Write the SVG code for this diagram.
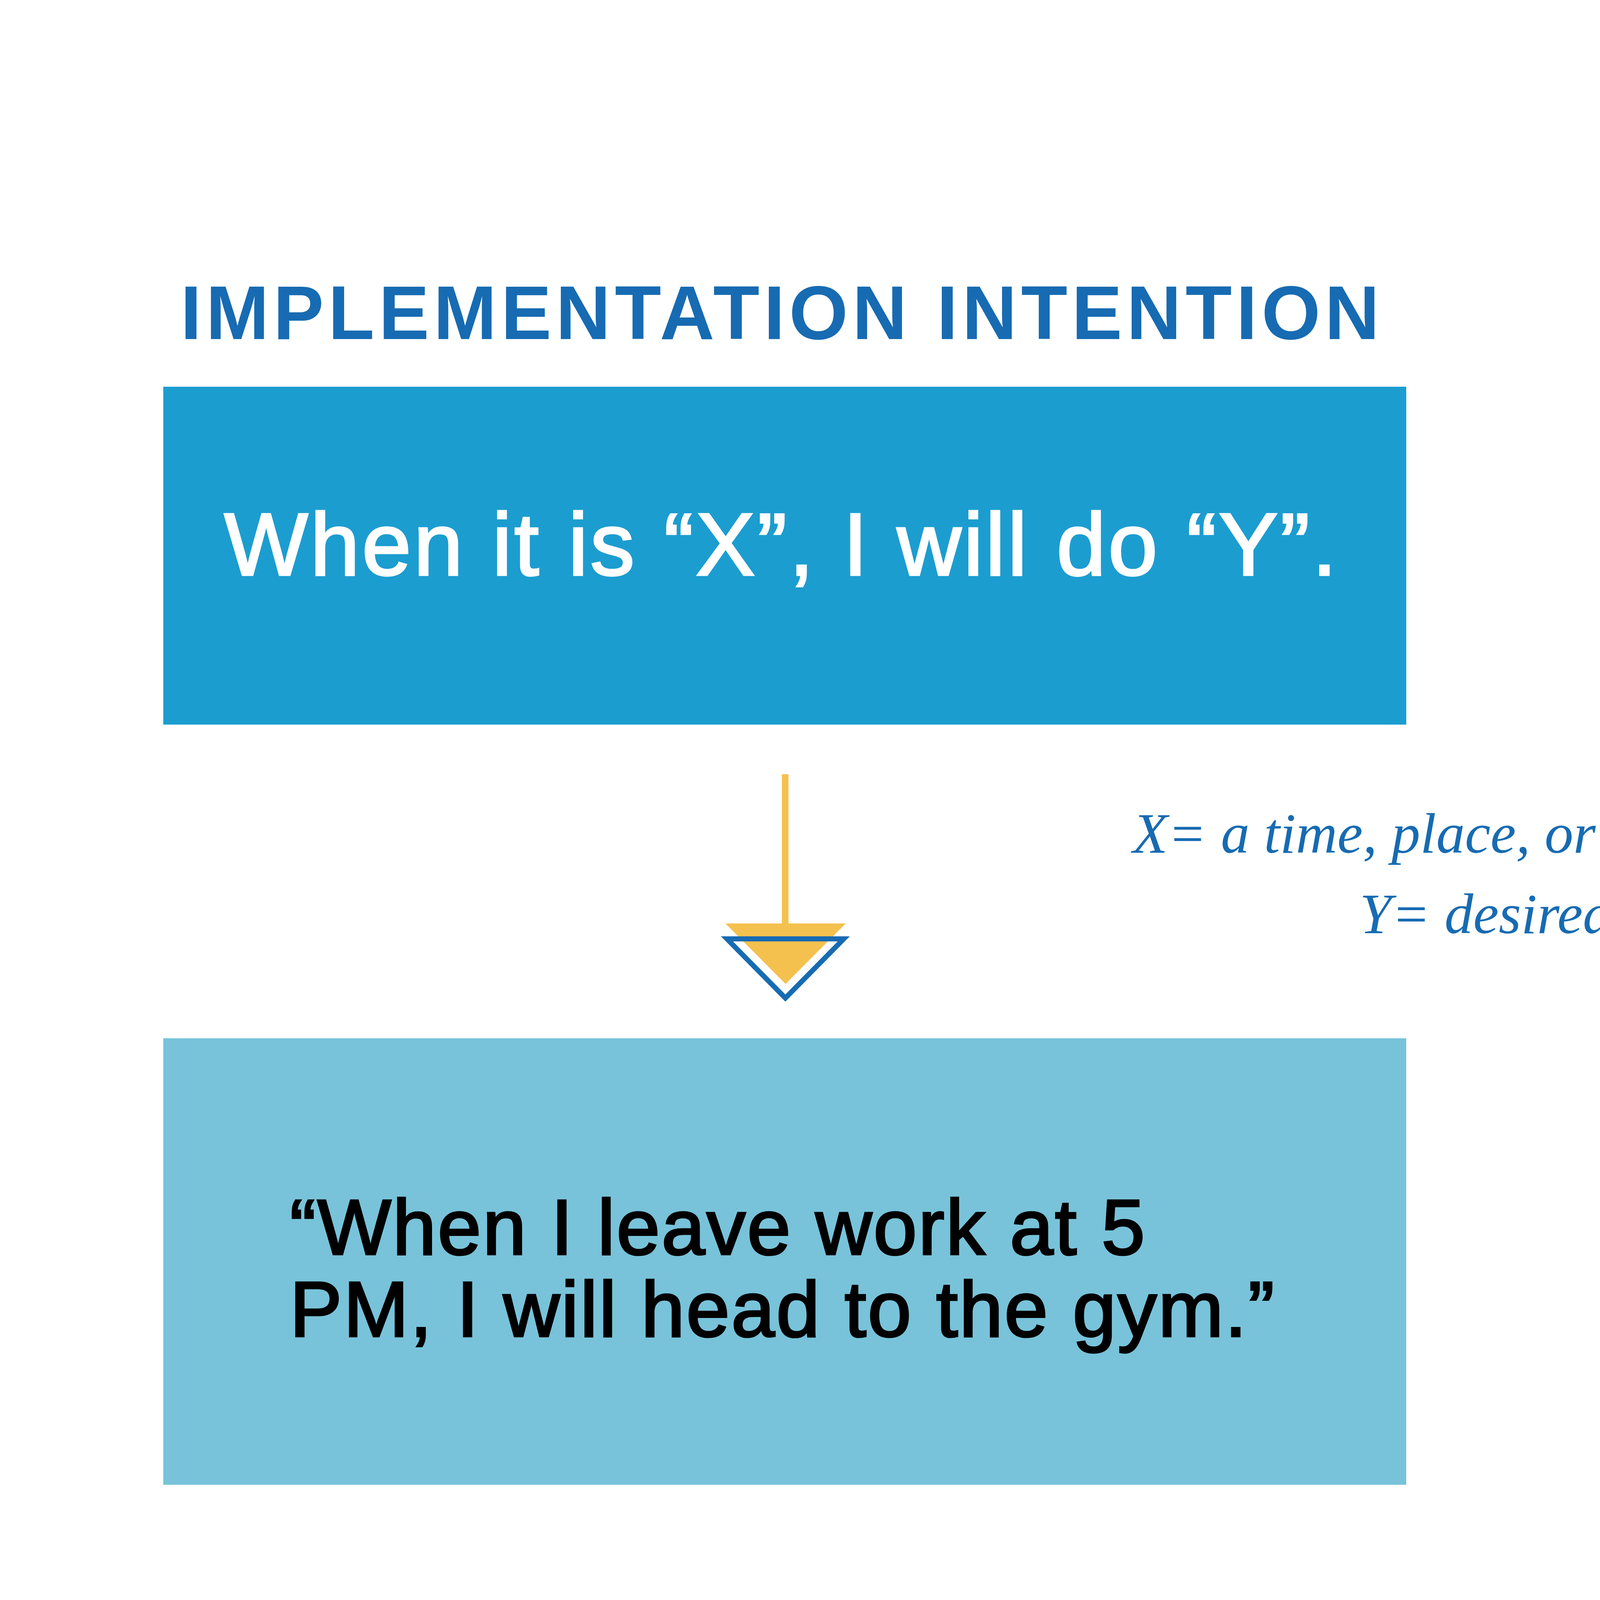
<svg xmlns="http://www.w3.org/2000/svg" width="8000" height="4500" viewBox="0 0 8000 4500">
<style>
.title{font-family:"Liberation Sans",Arial,sans-serif;font-weight:bold;font-size:194px;fill:#176BB2;letter-spacing:11px}
.head{font-family:"Liberation Sans",Arial,sans-serif;font-size:227px;fill:#fff;stroke:#fff;stroke-width:5;letter-spacing:6px}
.body{font-family:"Liberation Sans",Arial,sans-serif;font-size:200px;fill:#000;stroke:#000;stroke-width:5;letter-spacing:4px}
.bold{font-weight:bold;stroke-width:0;letter-spacing:1px}
.note{font-family:"Liberation Serif","Times New Roman",serif;font-style:italic;font-size:147px;fill:#176BB2;text-anchor:middle}
.stem{stroke:#F5C14E;stroke-width:17;fill:none}
.yel{fill:#F5C14E}
.blu{fill:none;stroke:#176BB2;stroke-width:13;stroke-linejoin:miter}
</style>
<rect width="8000" height="4500" fill="#fff"/>
<g id="title-implementation"><text class="title" x="462" y="868">IMPLEMENTATION INTENTION</text></g>
<g id="title-obligation"><text class="title" x="4867" y="869">OBLIGATION INTENTION</text></g>
<g id="node-impl-formula">
<rect x="418" y="990" width="3182" height="865" fill="#1C9DD0"/>
<text class="head" x="574" y="1472">When it is “X”, I will do “Y”.</text>
</g>
<g id="node-obl-formula">
<rect x="4666" y="990" width="2913" height="865" fill="#6D6E71"/>
<text class="head" x="5110" y="1375">When it is “X”, I will</text>
<text class="head" x="5110" y="1618">do “Y” with “Z”.</text>
</g>
<g id="legend">
<text class="note" x="4000" y="2183">X= a time, place, or desired situation</text>
<text class="note" x="4005" y="2389">Y= desired action</text>
</g>
<g id="node-impl-example">
<rect x="418" y="2658" width="3182" height="1143" fill="#78C3DA"/>
<text class="body" x="742" y="3211">“When I leave work at 5</text>
<text class="body" x="742" y="3421">PM, I will head to the gym.”</text>
</g>
<g id="node-obl-example">
<rect x="4666" y="2656" width="2913" height="1142" fill="#D1D3D4"/>
<text class="body" x="4912" y="3083">“When I leave work at 5</text>
<text class="body" x="4912" y="3293">PM, I will head to the gym</text>
<text class="body bold" x="4912" y="3505">to workout with Jim.”</text>
</g>
<g id="connectors">
<line class="stem" x1="2010" y1="1982" x2="2010" y2="2370"/>
<polygon class="yel" points="1857,2364 2165,2364 2011,2519"/>
<polygon class="blu" points="1861,2403.5 2160,2403.5 2010.5,2555"/>
<line class="stem" x1="6200" y1="1977" x2="6200" y2="2362"/>
<polygon class="yel" points="6046,2357 6354,2357 6200,2512"/>
<polygon class="blu" points="6050,2396.5 6350,2396.5 6200,2549"/>
</g>
</svg>
